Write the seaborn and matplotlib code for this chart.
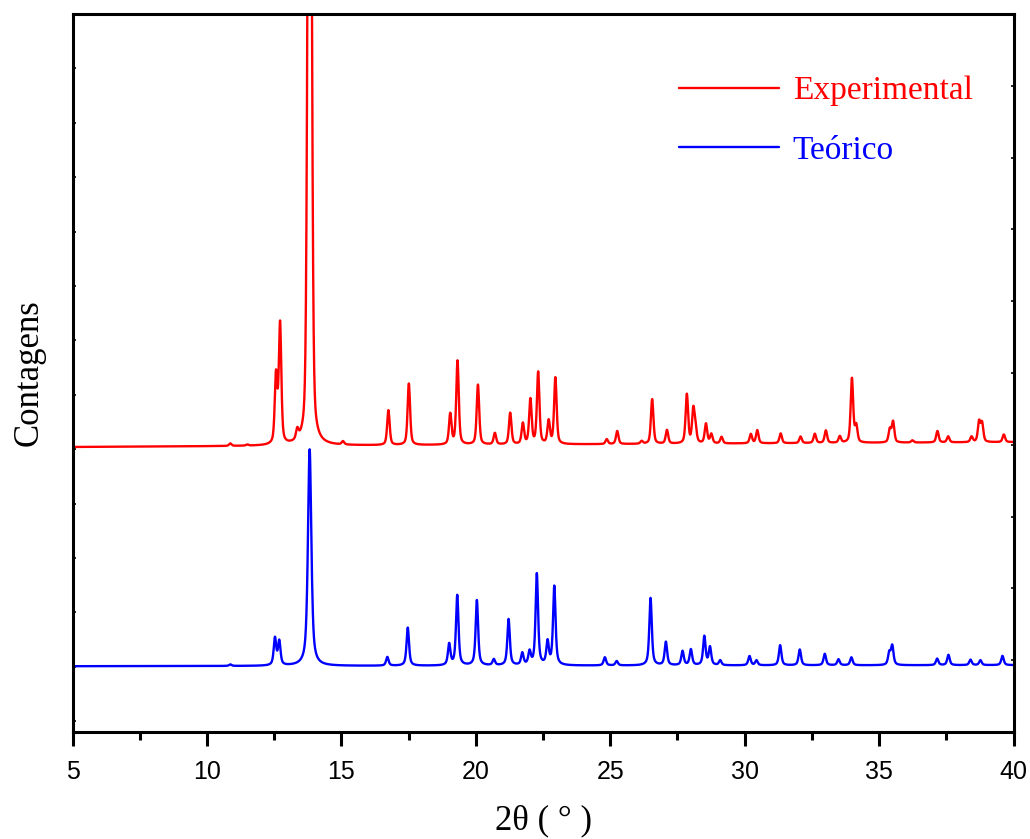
import numpy as np
import pandas as pd
import matplotlib
matplotlib.use("Agg")
import matplotlib.pyplot as plt
import seaborn as sns

# Reflections: position (2theta, deg) and peak height (counts above background)
exp_pos = [10.87, 11.50, 12.57, 12.72, 13.36, 13.82, 15.06, 16.75, 17.51, 19.05,
           19.32, 20.08, 20.71, 21.28, 21.75, 22.03, 22.32, 22.71, 22.96, 24.87,
           25.26, 26.17, 26.56, 27.11, 27.85, 28.09, 28.17, 28.56, 28.76, 29.14,
           30.23, 30.47, 31.34, 32.08, 32.61, 33.02, 33.54, 33.99, 34.15, 35.40,
           35.52, 36.24, 37.17, 37.57, 38.44, 38.72, 38.83, 39.64]
exp_int = [45, 20, 1250, 2200, 180, 20000, 60, 640, 1130, 560,
           1540, 1100, 210, 580, 380, 820, 1320, 420, 1220, 90,
           240, 50, 820, 250, 900, 600, 250, 360, 170, 120,
           170, 240, 180, 120, 170, 230, 120, 1180, 300, 240,
           380, 40, 210, 110, 100, 370, 340, 140]

theo_pos = [10.87, 12.53, 12.69, 13.82, 16.71, 17.47, 19.01, 19.31, 20.04, 20.67,
            21.22, 21.73, 22.00, 22.27, 22.67, 22.92, 24.80, 25.24, 26.50, 27.07,
            27.69, 28.00, 28.50, 28.71, 29.09, 30.18, 30.44, 31.32, 32.05, 32.98,
            33.49, 33.97, 35.38, 35.49, 37.16, 37.58, 38.40, 38.77, 39.59]
theo_int = [28, 500, 440, 3980, 160, 700, 390, 1290, 1200, 110,
            850, 220, 240, 1680, 420, 1450, 150, 80, 1240, 430,
            260, 290, 530, 330, 90, 170, 90, 370, 290, 210,
            110, 145, 220, 350, 120, 190, 100, 90, 170]

# Background levels (counts) at 5 and 40 deg; patterns are stacked by these offsets
exp_bg = [5040, 5130]
theo_bg = [1010, 1030]
bg_x = [5, 40]

x_ticks = [5, 10, 15, 20, 25, 30, 35, 40]
series_names = ["Experimental", "Teórico"]


def pattern(two_theta, pos, inten, fwhm, eta, wide_peak=None, wide_fwhm=None, wide_eta=None):
    y = np.zeros_like(two_theta)
    for p, h in zip(pos, inten):
        is_wide = wide_peak is not None and abs(p - wide_peak) < 1e-6
        w = wide_fwhm if is_wide else fwhm
        e = wide_eta if is_wide else eta
        u = 2.0 * (two_theta - p) / w
        lor = 1.0 / (1.0 + u ** 2)
        gau = np.exp(-np.log(2.0) * u ** 2)
        y += h * (e * lor + (1.0 - e) * gau)
    return y


tt = np.round(np.arange(5.0, 40.0001, 0.01), 2)
y_exp = pattern(tt, exp_pos, exp_int, 0.11, 0.5, 13.82, 0.15, 0.3) + np.interp(tt, bg_x, exp_bg)
y_theo = pattern(tt, theo_pos, theo_int, 0.11, 0.65, 13.82, 0.15, 0.65) + np.interp(tt, bg_x, theo_bg)

df = pd.DataFrame({
    "2theta": np.concatenate([tt, tt]),
    "counts": np.concatenate([y_exp, y_theo]),
    "serie": [series_names[0]] * len(tt) + [series_names[1]] * len(tt),
})

sns.set_theme(style="ticks")
plt.rcParams["font.family"] = ["Liberation Sans", "DejaVu Sans"]
plt.rcParams["text.color"] = "black"
plt.rcParams["axes.labelcolor"] = "black"
plt.rcParams["xtick.color"] = "black"
plt.rcParams["ytick.color"] = "black"

fig = plt.figure(figsize=(10.30, 8.39), dpi=100)
ax = fig.add_axes([0.0704, 0.1275, 0.9136, 0.8558])

sns.lineplot(data=df, x="2theta", y="counts", hue="serie",
             palette={"Experimental": "#ff0000", "Teórico": "#0000ff"},
             linewidth=1.7, estimator=None, sort=False, legend=False, ax=ax)

ax.set_xlim(5, 40)
ax.set_ylim(-200, 13000)
ax.set_xticks(x_ticks)
ax.set_xticklabels([str(v) for v in x_ticks], fontsize=18, family="Liberation Sans",
                   color="black")
ax.set_xticks(np.arange(7.5, 40, 5), minor=True)
ax.tick_params(axis="x", which="major", direction="out", length=10, width=2.2,
               pad=10, color="black", labelcolor="black", bottom=True, top=False)
ax.tick_params(axis="x", which="minor", direction="out", length=5.5, width=2.2,
               color="black", bottom=True, top=False)

ax.set_yticks(np.arange(0, 12001, 1000))
ax.set_yticklabels([])
ax.tick_params(axis="y", which="major", direction="in", length=2, width=1.2,
               left=True, right=False, color="black")

for s in ax.spines.values():
    s.set_visible(True)
    s.set_linewidth(2.2)
    s.set_color("black")

ax.set_xlabel("2θ ( ° )", fontsize=25, family="Liberation Serif", labelpad=15,
              color="black")
ax.set_ylabel("Contagens", fontsize=25, family="Liberation Serif", labelpad=16,
              color="black")

# Right-hand scale with its own tick spacing
ax2 = ax.twinx()
ax2.set_ylim(0, 10)
ax2.set_yticks(np.arange(0, 11, 1))
ax2.set_yticklabels([])
ax2.tick_params(axis="y", direction="in", length=2, width=1.2, right=True,
                left=False, color="black")
for s in ax2.spines.values():
    s.set_visible(False)

handles = [plt.Line2D([], [], color="#ff0000", lw=1.7),
           plt.Line2D([], [], color="#0000ff", lw=1.7)]
leg = ax.legend(handles, series_names, loc="upper left",
                bbox_to_anchor=(0.645, 0.914), frameon=False,
                prop={"family": "Liberation Serif", "size": 24},
                handlelength=3.0, handletextpad=0.4, labelspacing=0.88,
                borderpad=0, borderaxespad=0, labelcolor="linecolor")

fig.savefig("out.png", dpi=100, facecolor="white")
